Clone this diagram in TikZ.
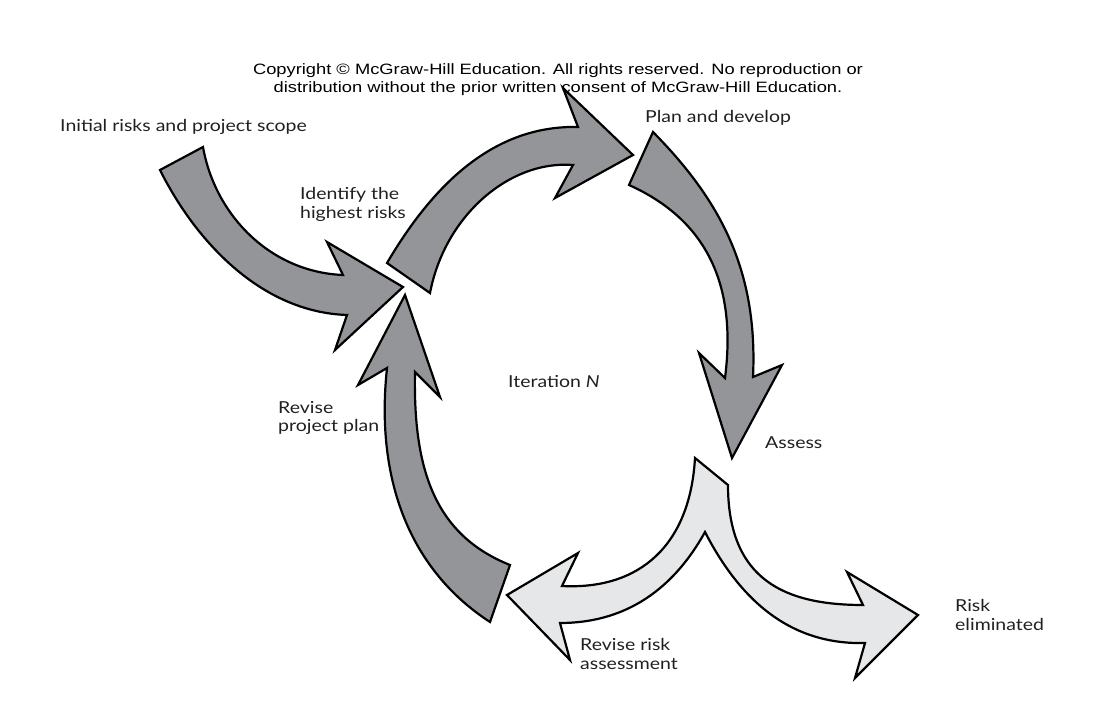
\documentclass[tikz,border=0pt]{standalone}
\usepackage{graphicx}
\usepackage{fontspec}
\setmainfont{Lato}
\newfontfamily\copyfont{Liberation Sans}
\definecolor{darkfill}{HTML}{939598}
\definecolor{lightfill}{HTML}{E6E7E8}
\definecolor{txt}{HTML}{231F20}
\newcommand{\sxl}[1]{\scalebox{1.18}[1]{#1}}
\newcommand{\sxc}[1]{\scalebox{1.22}[1]{#1}}
\begin{document}
\begin{tikzpicture}[x=1pt,y=-1pt,
  dark/.style={draw=black,fill=darkfill,line width=2.2pt,line join=miter},
  light/.style={draw=black,fill=lightfill,line width=2.2pt,line join=miter},
  lbl/.style={font=\fontsize{16.5}{18.7}\selectfont,text=txt,inner sep=0pt,align=left},
  cpy/.style={font=\copyfont\fontsize{15}{18}\selectfont,text=black,inner sep=0pt,align=center}]
\useasboundingbox (0,0) rectangle (1116,714);
% arrow 1: initial risks
\draw[dark] (160,170) .. controls (195,240) and (260,312) .. (347,315)
  -- (335,350) -- (403,287) -- (327,242) -- (343,275)
  .. controls (270,272) and (215,215) .. (203,147) -- cycle;
% arrow 2: identify -> plan
\draw[dark] (387,263) .. controls (430,190) and (490,125) .. (578,127)
  -- (563,88) -- (633,155) -- (555,198) -- (573,165)
  .. controls (510,160) and (445,215) .. (430,293) -- cycle;
% arrow 3: plan -> assess
\draw[dark] (653,132) .. controls (720,200) and (758,270) .. (753,377)
  -- (782,365) -- (732,458) -- (699,353) -- (725,378)
  .. controls (735,300) and (718,225) .. (629,185) -- cycle;
% arrow 4: revise project plan
\draw[dark] (405,295) -- (440,397) -- (415,372)
  .. controls (413,470) and (435,535) .. (510,565)
  -- (490,622)
  .. controls (410,570) and (375,480) .. (387,368)
  -- (358,385) -- cycle;
% arrow 5: assess split
\draw[light] (695,458) -- (728,485)
  .. controls (728,580) and (785,605) .. (863,605)
  -- (847,572) -- (918,615) -- (855,678) -- (865,643)
  .. controls (790,645) and (740,600) .. (705,532)
  .. controls (670,595) and (620,623) .. (560,623)
  -- (570,660) -- (507,595) -- (578,553) -- (562,586)
  .. controls (640,590) and (690,545) .. (695,458) -- cycle;
% texts
\node[cpy] (copy) at (558,80) {\sxc{Copyright © McGraw-Hill Education. All rights reserved. No reproduction or}\\\sxc{distribution without the prior written consent of McGraw-Hill Education.}};
\node[lbl,anchor=west] (init) at (60,127) {\sxl{Initial risks and project scope}};
\node[lbl,anchor=north west] (ident) at (300,187) {\sxl{Identify the}\\\sxl{highest risks}};
\node[lbl,anchor=west] (plan) at (645,118) {\sxl{Plan and develop}};
\node[lbl,anchor=west] (iter) at (508,382) {\sxl{Iteration \textit{N}}};
\node[lbl,anchor=north west] (revp) at (278,401) {\sxl{Revise}\\\sxl{project plan}};
\node[lbl,anchor=west] (assess) at (765,443) {\sxl{Assess}};
\node[lbl,anchor=north west] (revr) at (580,638) {\sxl{Revise risk}\\\sxl{assessment}};
\node[lbl,anchor=north west] (elim) at (955,599) {\sxl{Risk}\\\sxl{eliminated}};
\end{tikzpicture}
\end{document}
